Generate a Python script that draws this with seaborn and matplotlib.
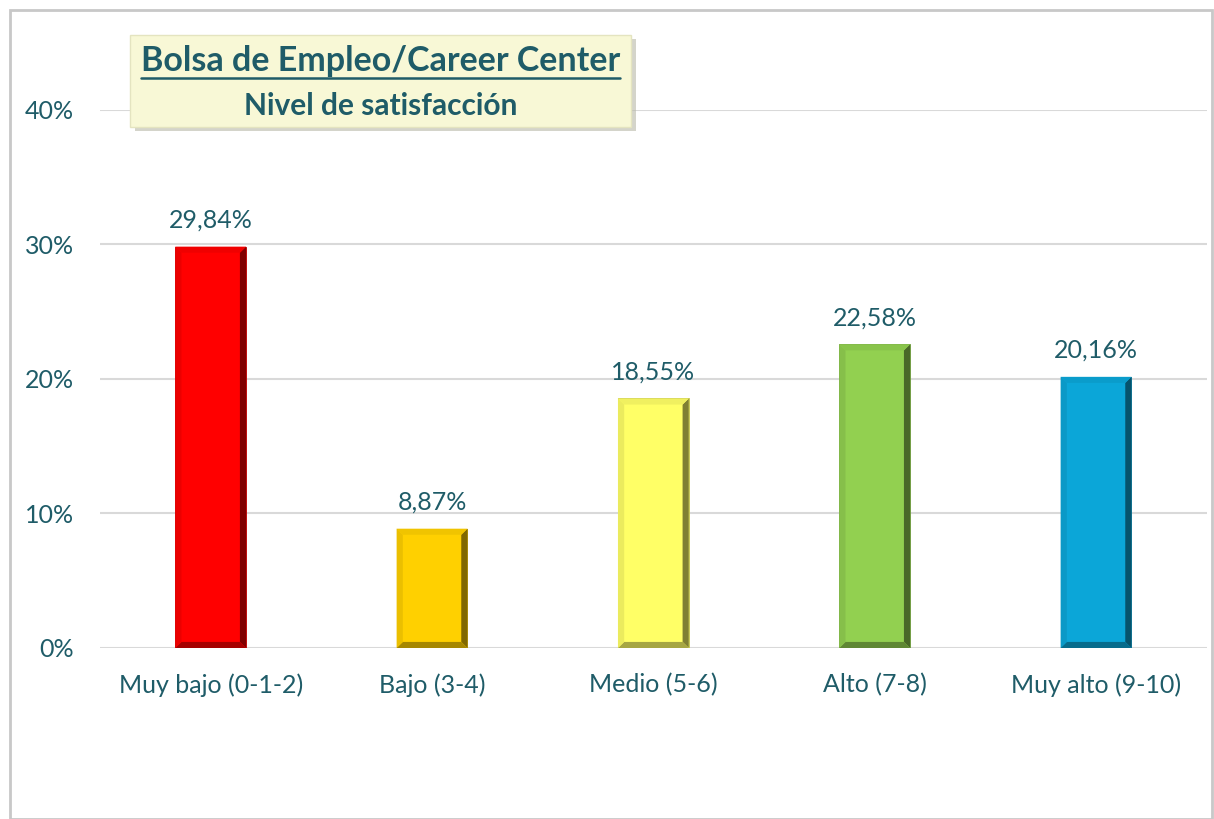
import pandas as pd
import seaborn as sns
import matplotlib.pyplot as plt
import matplotlib.colors as mcolors
from matplotlib.patches import Rectangle, Polygon
from matplotlib.lines import Line2D
from matplotlib.ticker import PercentFormatter

# Datos
categorias = ["Muy bajo (0-1-2)", "Bajo (3-4)", "Medio (5-6)", "Alto (7-8)", "Muy alto (9-10)"]
porcentajes = [29.84, 8.87, 18.55, 22.58, 20.16]
etiquetas = ["29,84%", "8,87%", "18,55%", "22,58%", "20,16%"]
colores = ["#FF0000", "#FFD000", "#FFFF66", "#92D050", "#0BA6D8"]

df = pd.DataFrame({"cat": categorias, "pct": porcentajes})

sns.set_style("white")
plt.rcParams["font.family"] = ["Lato", "DejaVu Sans"]
texto = "#1F5C68"


def oscurecer(c, f):
    r, g, b = mcolors.to_rgb(c)
    return (r * (1 - f), g * (1 - f), b * (1 - f))


fig = plt.figure(figsize=(12.14, 8.19), dpi=100)
ax = fig.add_axes([0.0824, 0.2088, 0.9116, 0.6569])

sns.barplot(data=df, x="cat", y="pct", hue="cat", palette=colores, legend=False,
            width=0.32, saturation=1, ax=ax, zorder=3)

# efecto biselado
bx = 0.028  # ancho del bisel en unidades de categoría
by = 0.45   # alto del bisel en %
for bar, c in zip(ax.patches, colores):
    x0, w, h = bar.get_x(), bar.get_width(), bar.get_height()
    x1 = x0 + w
    bar.set_edgecolor(oscurecer(c, 0.25))
    bar.set_linewidth(0.6)
    caras = [
        ([(x1, 0), (x1, h), (x1 - bx, h - by), (x1 - bx, by)], oscurecer(c, 0.5)),
        ([(x0, 0), (x1, 0), (x1 - bx, by), (x0 + bx, by)], oscurecer(c, 0.35)),
        ([(x0, 0), (x0, h), (x0 + bx, h - by), (x0 + bx, by)], oscurecer(c, 0.08)),
        ([(x0, h), (x1, h), (x1 - bx, h - by), (x0 + bx, h - by)], oscurecer(c, 0.06)),
    ]
    for pts, col in caras:
        ax.add_patch(Polygon(pts, closed=True, facecolor=col, edgecolor="none", zorder=4))

# etiquetas de valor
for i, (v, t) in enumerate(zip(porcentajes, etiquetas)):
    ax.text(i, v + 1.1, t, ha="center", va="bottom", fontsize=18, color=texto)

ax.set_ylim(0, 40)
ax.set_xlim(-0.5, 4.5)
ax.set_yticks([0, 10, 20, 30, 40])
ax.yaxis.set_major_formatter(PercentFormatter(decimals=0))
ax.grid(axis="y", color="#D9D9D9", linewidth=1.5, zorder=0)
for s in ax.spines.values():
    s.set_visible(False)
ax.tick_params(axis="both", length=0, labelsize=18, labelcolor=texto)
ax.tick_params(axis="x", pad=18)
ax.tick_params(axis="y", pad=19)
ax.set_xlabel("")
ax.set_ylabel("")

# marco exterior
fig.add_artist(Rectangle((0.008, 0.0), 0.99, 0.988, transform=fig.transFigure,
                         fill=False, edgecolor="#C8C8C8", linewidth=2))

# recuadro del título
fig.add_artist(Rectangle((0.111, 0.84), 0.413, 0.112, transform=fig.transFigure,
                         facecolor="#B8B8A8", edgecolor="none", alpha=0.6))
fig.add_artist(Rectangle((0.107, 0.845), 0.413, 0.112, transform=fig.transFigure,
                         facecolor="#F8F8D6", edgecolor="#E4E4C0", linewidth=1))
t1 = fig.text(0.3135, 0.926, "Bolsa de Empleo/Career Center", ha="center", va="center",
              fontsize=24.5, fontweight="bold", color=texto)
fig.text(0.3135, 0.871, "Nivel de satisfacción", ha="center", va="center",
         fontsize=21.5, fontweight="bold", color=texto)

fig.canvas.draw()
bb = t1.get_window_extent().transformed(fig.transFigure.inverted())
fig.add_artist(Line2D([bb.x0, bb.x1], [bb.y0 - 0.002, bb.y0 - 0.002], transform=fig.transFigure,
                      color=texto, linewidth=1.8))

plt.savefig("out.png", dpi=100)
